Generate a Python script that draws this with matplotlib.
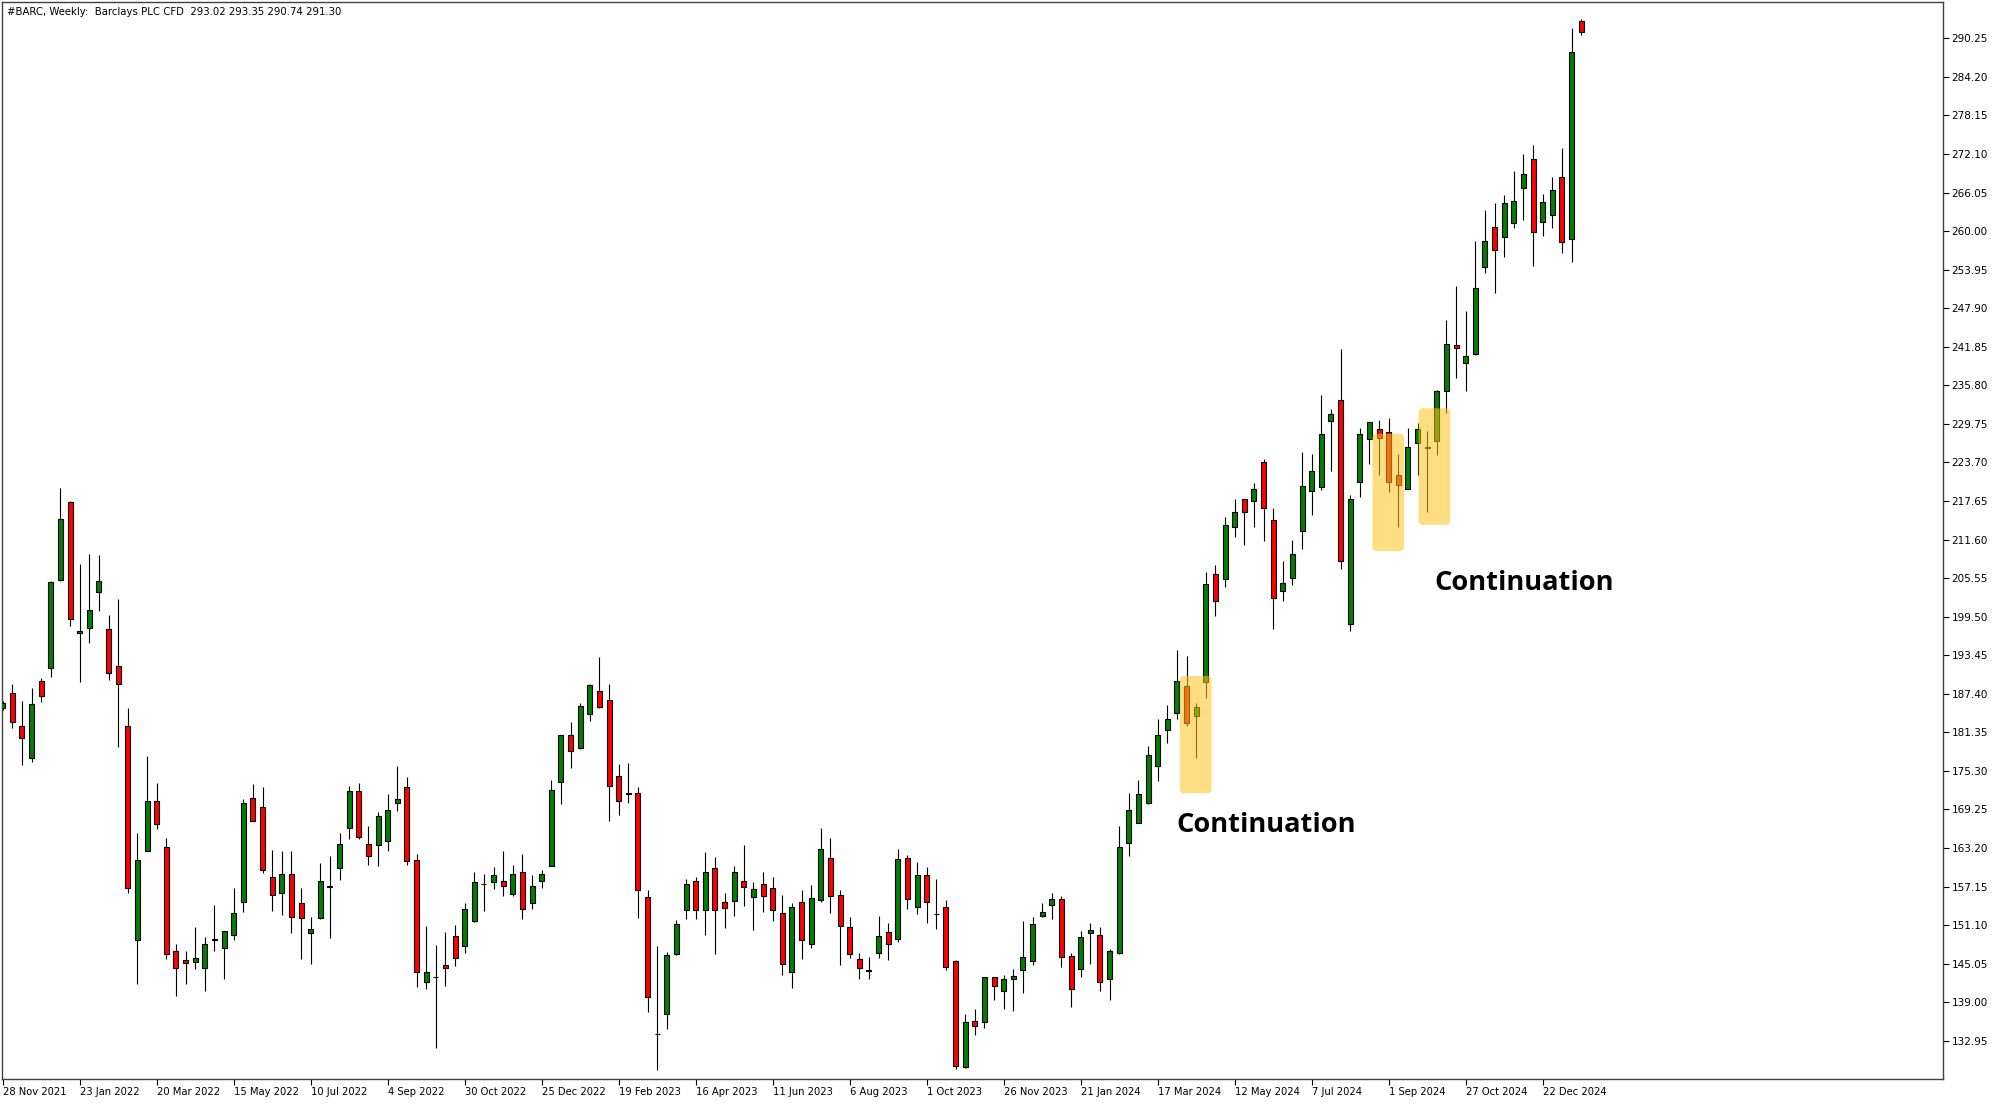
import matplotlib
matplotlib.use("Agg")
import matplotlib.pyplot as plt
from matplotlib.patches import FancyBboxPatch

# weekly OHLC, #BARC, 28 Nov 2021 .. Jan 2025
opens = [
    185.1, 187.5, 182.4, 177.3, 189.4, 191.4, 205.3, 217.5, 197.0, 197.7,
    203.3, 197.5, 191.7, 182.3, 148.7, 162.8, 170.5, 163.3, 147.0, 145.7,
    145.3, 144.3, 148.7, 147.5, 149.6, 154.8, 171.1, 169.6, 158.7, 156.2,
    159.2, 154.5, 149.9, 152.2, 157.1, 160.0, 166.3, 172.1, 163.9, 163.7,
    164.3, 170.2, 172.8, 161.3, 142.2, 142.9, 144.9, 149.4, 147.9, 151.8,
    157.6, 157.9, 158.1, 156.0, 159.4, 154.5, 158.1, 160.4, 173.5, 180.9,
    178.9, 184.3, 187.9, 186.4, 174.5, 171.9, 171.9, 155.5, 134.0, 137.2,
    146.6, 153.5, 158.1, 153.5, 160.0, 154.7, 154.9, 158.1, 155.5, 157.6,
    157.0, 153.0, 143.7, 154.7, 148.2, 155.0, 161.7, 155.9, 150.8, 145.8,
    143.9, 146.8, 150.0, 149.0, 161.7, 153.9, 158.9, 152.8, 153.9, 145.5,
    128.8, 136.0, 135.95, 142.9, 140.7, 142.6, 144.0, 145.5, 152.6, 154.2,
    155.25, 146.2, 144.2, 149.8, 149.55, 142.65, 146.8, 164.0, 167.2, 170.3,
    176.1, 181.7, 184.4, 188.6, 183.9, 189.3, 206.2, 205.4, 213.6, 217.9,
    217.6, 223.8, 214.6, 203.6, 205.6, 213.0, 219.2, 219.8, 230.2, 233.5,
    198.3, 220.7, 227.4, 228.9, 228.5, 221.8, 219.6, 226.8, 226.2, 227.1,
    234.9, 242.2, 239.3, 240.7, 254.3, 260.7, 259.0, 261.2, 266.7, 271.3,
    261.5, 262.6, 268.5, 258.7, 293.02,
]
highs = [
    186.3, 188.9, 186.2, 188.3, 189.9, 205.1, 219.7, 217.6, 207.8, 209.3,
    209.1, 199.8, 202.2, 185.2, 165.5, 177.6, 173.4, 164.7, 148.1, 147.1,
    150.8, 149.2, 154.3, 150.2, 157.0, 170.9, 173.2, 172.7, 162.9, 162.7,
    162.7, 157.0, 152.3, 160.8, 161.9, 165.5, 172.9, 173.4, 166.6, 168.9,
    171.6, 176.0, 174.4, 162.3, 150.9, 148.0, 150.0, 151.1, 154.5, 159.5,
    159.1, 160.2, 162.7, 160.6, 162.3, 158.9, 159.7, 173.9, 180.9, 182.9,
    185.9, 188.9, 193.2, 188.9, 176.4, 176.6, 172.8, 156.6, 147.8, 146.9,
    151.9, 158.4, 158.7, 162.6, 161.8, 156.1, 160.4, 163.6, 157.9, 159.4,
    158.7, 155.9, 154.5, 156.6, 157.4, 166.3, 164.7, 156.6, 152.4, 146.8,
    146.1, 152.5, 151.5, 163.0, 162.1, 161.0, 160.2, 158.3, 155.1, 145.7,
    137.2, 137.9, 143.0, 142.9, 143.3, 144.2, 151.75, 152.3, 154.5, 156.2,
    155.7, 146.8, 150.2, 151.5, 150.8, 147.3, 166.6, 171.9, 173.9, 179.2,
    183.5, 185.7, 194.2, 193.3, 185.9, 206.5, 207.6, 215.1, 217.9, 217.9,
    220.4, 224.3, 216.5, 208.2, 211.5, 225.3, 225.0, 234.3, 232.1, 241.5,
    218.6, 229.1, 230.0, 230.4, 230.6, 225.0, 229.1, 229.9, 228.7, 235.1,
    246.0, 251.4, 247.5, 258.4, 263.3, 264.4, 265.6, 269.5, 272.1, 273.5,
    265.8, 268.5, 273.0, 291.8, 293.35,
]
lows = [
    184.8, 182.0, 176.2, 176.7, 186.1, 190.1, 205.1, 198.0, 189.2, 195.4,
    200.4, 189.5, 179.0, 156.2, 141.9, 162.8, 166.2, 145.8, 140.0, 141.9,
    144.2, 140.7, 147.1, 142.7, 148.8, 153.1, 167.5, 159.3, 153.3, 152.7,
    149.9, 145.8, 145.0, 152.0, 149.1, 158.2, 164.6, 164.6, 160.5, 160.3,
    162.7, 169.0, 160.5, 141.4, 141.0, 131.8, 141.6, 144.7, 146.7, 151.6,
    153.3, 156.7, 155.6, 155.6, 152.1, 153.6, 156.9, 160.3, 170.1, 175.8,
    178.8, 183.1, 185.2, 167.5, 168.4, 170.3, 152.2, 137.5, 128.4, 134.8,
    146.4, 152.0, 152.0, 149.6, 146.6, 150.7, 152.5, 154.1, 150.3, 153.1,
    151.8, 143.2, 141.2, 145.8, 147.5, 154.7, 153.0, 144.8, 145.9, 142.7,
    142.6, 145.9, 145.7, 148.4, 153.7, 152.8, 151.5, 150.5, 144.1, 128.5,
    128.7, 133.9, 135.0, 139.4, 138.0, 137.7, 140.5, 144.8, 152.4, 152.0,
    144.6, 138.3, 142.9, 145.0, 140.8, 139.3, 146.6, 162.0, 167.2, 170.1,
    173.7, 179.7, 183.4, 182.3, 177.3, 186.7, 199.6, 204.2, 212.0, 210.7,
    213.6, 211.4, 197.5, 202.0, 204.4, 210.1, 215.4, 219.4, 222.4, 207.0,
    197.3, 218.3, 223.5, 221.7, 219.0, 213.6, 219.6, 221.8, 216.0, 224.9,
    231.4, 237.0, 234.9, 240.5, 253.5, 250.3, 255.9, 260.5, 261.7, 254.6,
    259.3, 260.5, 256.5, 255.1, 290.74,
]
closes = [
    186.0, 183.0, 180.4, 185.8, 187.0, 204.9, 214.9, 199.2, 197.3, 200.5,
    205.1, 190.6, 189.0, 156.9, 161.3, 170.5, 167.0, 146.6, 144.3, 145.1,
    145.9, 148.1, 149.0, 150.2, 153.0, 170.2, 167.5, 159.8, 155.8, 159.2,
    152.4, 152.2, 150.5, 158.1, 157.3, 163.9, 172.2, 165.0, 162.0, 168.3,
    169.1, 170.9, 161.1, 143.7, 143.7, 142.9, 144.3, 146.0, 153.7, 157.9,
    157.6, 158.9, 157.3, 159.2, 153.6, 157.3, 159.1, 172.3, 180.9, 178.5,
    185.5, 188.7, 185.4, 173.0, 170.5, 171.7, 156.6, 139.8, 134.0, 146.4,
    151.3, 157.6, 153.5, 159.4, 153.5, 153.8, 159.4, 157.1, 156.8, 155.6,
    153.4, 145.0, 153.9, 148.7, 155.3, 163.0, 155.7, 150.9, 146.6, 144.3,
    144.0, 149.4, 148.2, 161.5, 155.2, 158.9, 154.7, 152.8, 144.6, 129.05,
    135.85, 135.2, 142.9, 141.6, 142.65, 143.1, 146.1, 151.3, 153.2, 155.2,
    146.05, 141.1, 149.2, 150.3, 142.1, 147.1, 163.4, 169.2, 171.6, 177.8,
    180.9, 183.4, 189.4, 182.8, 185.3, 204.7, 202.0, 213.9, 216.0, 216.0,
    219.6, 216.5, 202.4, 204.8, 209.4, 220.0, 222.3, 228.1, 231.3, 208.3,
    218.0, 228.2, 230.0, 227.5, 220.6, 220.2, 226.2, 228.9, 226.0, 234.9,
    242.3, 241.7, 240.4, 251.0, 258.5, 257.0, 264.4, 264.8, 269.0, 259.9,
    264.6, 266.5, 258.3, 288.1, 291.30,
]

date_labels = [
    "28 Nov 2021", "23 Jan 2022", "20 Mar 2022", "15 May 2022", "10 Jul 2022",
    "4 Sep 2022", "30 Oct 2022", "25 Dec 2022", "19 Feb 2023", "16 Apr 2023",
    "11 Jun 2023", "6 Aug 2023", "1 Oct 2023", "26 Nov 2023", "21 Jan 2024",
    "17 Mar 2024", "12 May 2024", "7 Jul 2024", "1 Sep 2024", "27 Oct 2024",
    "22 Dec 2024",
]
label_every = 8  # weeks between date labels

price_ticks = [
    132.95, 139.00, 145.05, 151.10, 157.15, 163.20, 169.25, 175.30, 181.35,
    187.40, 193.45, 199.50, 205.55, 211.60, 217.65, 223.70, 229.75, 235.80,
    241.85, 247.90, 253.95, 260.00, 266.05, 272.10, 278.15, 284.20, 290.25,
]

# highlighted zones: (first bar, last bar, low price, high price)
zones = [
    (122.3, 125.6, 171.8, 190.2),
    (142.3, 145.6, 209.8, 228.2),
    (147.1, 150.4, 213.9, 232.2),
]
notes = [("Continuation", 121.9, 166.8), ("Continuation", 148.7, 204.8)]

GREEN = "#008000"
RED = "#ff0000"
ZONE = "#ffc420"

fig = plt.figure(figsize=(20, 11.05), dpi=100)
ax = fig.add_axes([0.00085, 0.0235, 0.9707, 0.9747])

x = list(range(len(opens)))
bottoms = [min(o, c) for o, c in zip(opens, closes)]
heights = [abs(c - o) for o, c in zip(opens, closes)]
colors = [GREEN if c >= o else RED for o, c in zip(opens, closes)]

ax.vlines(x, lows, highs, color="black", lw=0.8, zorder=2)
ax.bar(x, heights, bottom=bottoms, width=0.52, color=colors,
       edgecolor="black", linewidth=0.8, zorder=3)

xlim = (-0.1, 201.6)
ylim = (126.95, 295.95)
ax.set_xlim(*xlim)
ax.set_ylim(*ylim)

# aspect so the rounded corners stay round
bbox = ax.get_window_extent()
px_x = bbox.width / (xlim[1] - xlim[0])
px_y = bbox.height / (ylim[1] - ylim[0])
for x0, x1, y0, y1 in zones:
    box = FancyBboxPatch((x0, y0), x1 - x0, y1 - y0,
                         boxstyle="round,pad=0,rounding_size=0.45",
                         mutation_aspect=px_x / px_y,
                         facecolor=ZONE, edgecolor="none", alpha=0.56, zorder=4)
    ax.add_patch(box)

for txt, tx, ty in notes:
    ax.text(tx, ty, txt, fontsize=19.6, fontweight="bold", family="Open Sans",
            ha="left", va="center", color="black", zorder=5)

ax.yaxis.tick_right()
ax.set_yticks(price_ticks)
ax.set_yticklabels([f"{p:.2f}" for p in price_ticks])
ax.tick_params(axis="y", direction="out", length=4, width=0.8, pad=2,
               labelsize=7.5, colors="black")

ax.set_xticks([i * label_every for i in range(len(date_labels))])
ax.set_xticklabels(date_labels, ha="left")
ax.tick_params(axis="x", direction="out", length=4, width=0.8, pad=2,
               labelsize=7.2, colors="black")

for side in ["left", "top", "right", "bottom"]:
    ax.spines[side].set_color("#404040")
    ax.spines[side].set_linewidth(1.0)

fig.text(0.0035, 1 - 12 / 1105, "#BARC, Weekly:  Barclays PLC CFD  293.02 293.35 290.74 291.30",
         fontsize=7.3, ha="left", va="center", color="black")

fig.savefig("out.png", dpi=100, facecolor="white")
